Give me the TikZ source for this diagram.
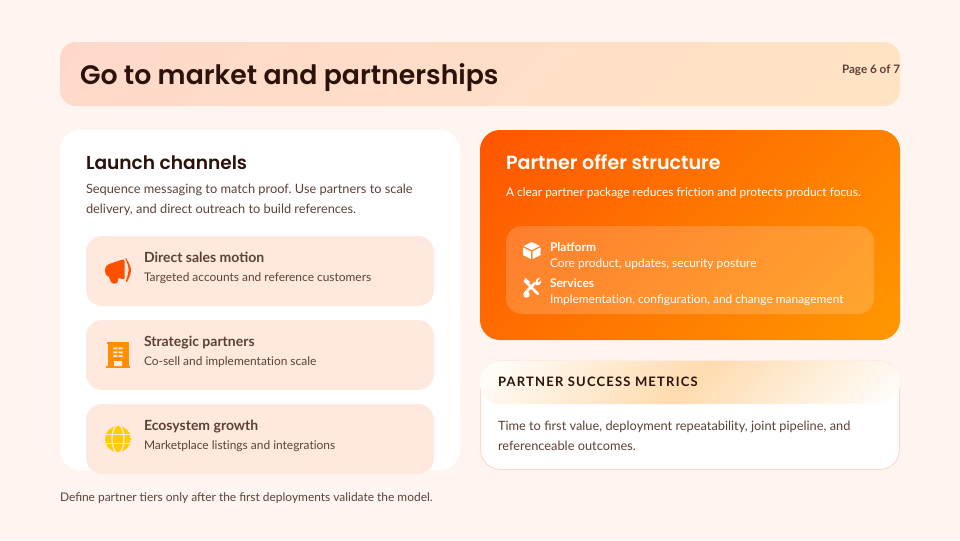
\documentclass[tikz,border=0pt]{standalone}
\usepackage{fontspec}
\setmainfont{Lato}
\newfontfamily\headfont{Poppins SemiBold}
\newcommand\tiNoLig{t\kern0pt i}
\frenchspacing
\definecolor{pagebg}{HTML}{FFF5F0}
\definecolor{inkdark}{HTML}{2B120A}
\definecolor{inkbody}{HTML}{5D4037}
\definecolor{itemfill}{HTML}{FFE9DF}
\definecolor{orangeA}{HTML}{FF5500}
\definecolor{orangeB}{HTML}{FF9800}
\definecolor{headA}{HTML}{FFD8CA}
\definecolor{headB}{HTML}{FFE4C4}
\definecolor{peach}{HTML}{FFDBAE}
\definecolor{cardline}{HTML}{FFD9CB}
\definecolor{iconred}{HTML}{FF5000}
\definecolor{iconorange}{HTML}{FF8F00}
\definecolor{iconyellow}{HTML}{FFCC00}
\tikzset{
  txt/.style={inner sep=0pt,outer sep=0pt,anchor=base west},
  itemcard/.style={fill=itemfill,rounded corners=12pt},
  whitecard/.style={fill=white,rounded corners=15pt},
  itemtitle/.style={txt,text=inkbody,font=\fontsize{10.5pt}{13pt}\selectfont\bfseries},
  itemsub/.style={txt,text=inkbody,font=\fontsize{8.95pt}{12pt}\selectfont},
  paneltitle/.style={txt,text=white,font=\fontsize{9pt}{12pt}\selectfont\bfseries},
  panelsub/.style={txt,text=white,font=\fontsize{8.95pt}{12pt}\selectfont},
  bodytxt/.style={txt,text=inkbody,font=\fontsize{9.6pt}{15pt}\selectfont,align=left,anchor=north west},
}
\begin{document}
\begin{tikzpicture}[x=0.75pt,y=-0.75pt]
\useasboundingbox (0,0) rectangle (960,540);
\fill[pagebg] (0,0) rectangle (960,540);
% title band
\begin{scope}
  \clip[rounded corners=12pt] (60,42) rectangle (900,106);
  \shade[transform canvas={shift={(480,74)},rotate=-45},left color=headA,right color=headB] (-320,-700) rectangle (320,700);
\end{scope}
\node[txt,text=inkdark,font=\fontsize{20.05pt}{24pt}\selectfont\headfont] (title) at (80,84) {Go to market and partnerships};
\node[txt,text=inkbody,font=\fontsize{8.75pt}{12pt}\selectfont\bfseries] (page) at (842,73) {Page 6 of 7};
% left card
\fill[whitecard] (60,130) rectangle (460,470);
\node[txt,text=inkdark,font=\fontsize{13.95pt}{18pt}\selectfont\headfont] (ltitle) at (86,169) {Launch channels};
\node[bodytxt] (lbody) at (86,184.5) {Sequence messaging to match proof. Use partners to scale\\delivery, and direct outreach to build references.};
\fill[itemcard] (86,236) rectangle (434,306);
\fill[itemcard] (86,320) rectangle (434,390);
\fill[itemcard] (86,404) rectangle (434,474);
\node[itemtitle] (i1) at (144,262) {Direct sales motion};
\node[itemsub] (s1) at (144,281) {Targeted accounts and reference customers};
\node[itemtitle] (i2) at (144,346) {Strategic partners};
\node[itemsub] (s2) at (144,365) {Co-sell and implementa\tiNoLig on scale};
\node[itemtitle] (i3) at (144,430) {Ecosystem growth};
\node[itemsub] (s3) at (144,449) {Marketplace lis\tiNoLig ngs and integra\tiNoLig ons};
% megaphone
\fill[iconred] (109,264) -- (122.5,259.5) .. controls (124,259) and (124.5,260) .. (124.5,261) -- (124.5,278) .. controls (124.5,279.5) and (123.5,279.5) .. (122.5,279) -- (118.5,278) -- (117.5,282) .. controls (117,284) and (112,284.5) .. (111,282) -- (109,277) .. controls (103.5,276) and (103.5,265) .. (109,264) -- cycle;
\fill[iconred] (126,258) .. controls (129,263) and (131,267) .. (131,270) .. controls (131,274) and (129,278) .. (127,282) -- (125.8,281.5) .. controls (127.5,276) and (128.6,273) .. (128.6,270) .. controls (128.6,267) and (127.5,263) .. (125.3,258.5) -- cycle;
% building
\fill[iconorange] (107,342) rectangle (129,344);
\fill[iconorange] (107.8,342) rectangle (128.5,367);
\fill[iconorange] (106,366) rectangle (130,368);
\fill[itemfill] (113.3,347.3) rectangle (117.3,349.3) (118.5,347.3) rectangle (122.7,349.3)
  (113.3,351.3) rectangle (117.3,353.3) (118.5,351.3) rectangle (122.7,353.3)
  (113.3,355.1) rectangle (117.3,357.1) (118.5,355.1) rectangle (122.7,357.1)
  (114,361) rectangle (122,366);
% globe
\begin{scope}
  \clip (118,439) circle (13);
  \fill[iconyellow] (118,439) circle (13);
  \draw[itemfill,line width=1pt] (118,439) ellipse (6 and 14);
  \draw[itemfill,line width=1pt] (104,434.5) -- (132,434.5) (104,443.5) -- (132,443.5);
\end{scope}
% orange card
\begin{scope}
  \clip[rounded corners=15pt] (480,130) rectangle (900,340);
  \shade[transform canvas={shift={(690,235)},rotate=-45},left color=orangeA,right color=orangeB] (-222.7,-500) rectangle (222.7,500);
\end{scope}
\node[txt,text=white,font=\fontsize{14.3pt}{18pt}\selectfont\headfont] (rtitle) at (506,169) {Partner offer structure};
\node[txt,text=white,font=\fontsize{8.95pt}{12pt}\selectfont] (rsub) at (506,196) {A clear partner package reduces fric\tiNoLig on and protects product focus.};
\fill[white,fill opacity=0.18,rounded corners=12pt] (506,226) rectangle (874,314);
\node[paneltitle] (p1) at (550,251) {Platform};
\node[panelsub] (p1s) at (550,267) {Core product, updates, security posture};
\node[paneltitle] (p2) at (550,287) {Services};
\node[panelsub] (p2s) at (550,303) {Implementa\tiNoLig on, configura\tiNoLig on, and change management};
% cube
\fill[white] (531.7,242) -- (540,246) -- (531.7,250) -- (523.5,246) -- cycle;
\fill[white] (523,247.5) -- (530.8,251.3) -- (530.8,259) -- (523,255) -- cycle;
\fill[white] (540.5,247.5) -- (532.7,251.3) -- (532.7,259) -- (540.5,255) -- cycle;
% tools
\draw[white,line width=2.1pt,line cap=round] (527,283) -- (538,294);
\fill[white] (523.5,281.5) -- (525.5,278) -- (530,282) -- (527.5,285) -- cycle;
\draw[white,line width=2.1pt,line cap=round] (526,292) -- (535,283);
\fill[white] (526.5,294.5) circle (3.2);
\fill[white] (536,283) .. controls (535,279) and (538,277.5) .. (540,278) -- (537.5,281) -- (539,282.5) -- (541.2,280) .. controls (542,283) and (539.5,286) .. (536,285) -- cycle;
% metrics card
\filldraw[fill=white,draw=cardline,line width=0.75pt,rounded corners=15pt] (480.5,361) rectangle (899.5,469.5);
\begin{scope}
  \clip[rounded corners=15pt] (480,361) rectangle (900,404);
  \shade[transform canvas={shift={(690,382.5)},rotate=-45},left color=white,right color=white,middle color=peach] (-163.7,-500) rectangle (163.7,500);
\end{scope}
\node[txt,text=inkdark,font=\fontsize{9.75pt}{12pt}\selectfont\bfseries\addfontfeature{LetterSpace=9.3}] (mtitle) at (498,386) {PARTNER SUCCESS METRICS};
\node[bodytxt] (mbody) at (498,421) {Time to first value, deployment repeatability, joint pipeline, and\\referenceable outcomes.};
% footer
\node[itemsub] (foot) at (60,501) {Define partner tiers only after the first deployments validate the model.};
\end{tikzpicture}
\end{document}
